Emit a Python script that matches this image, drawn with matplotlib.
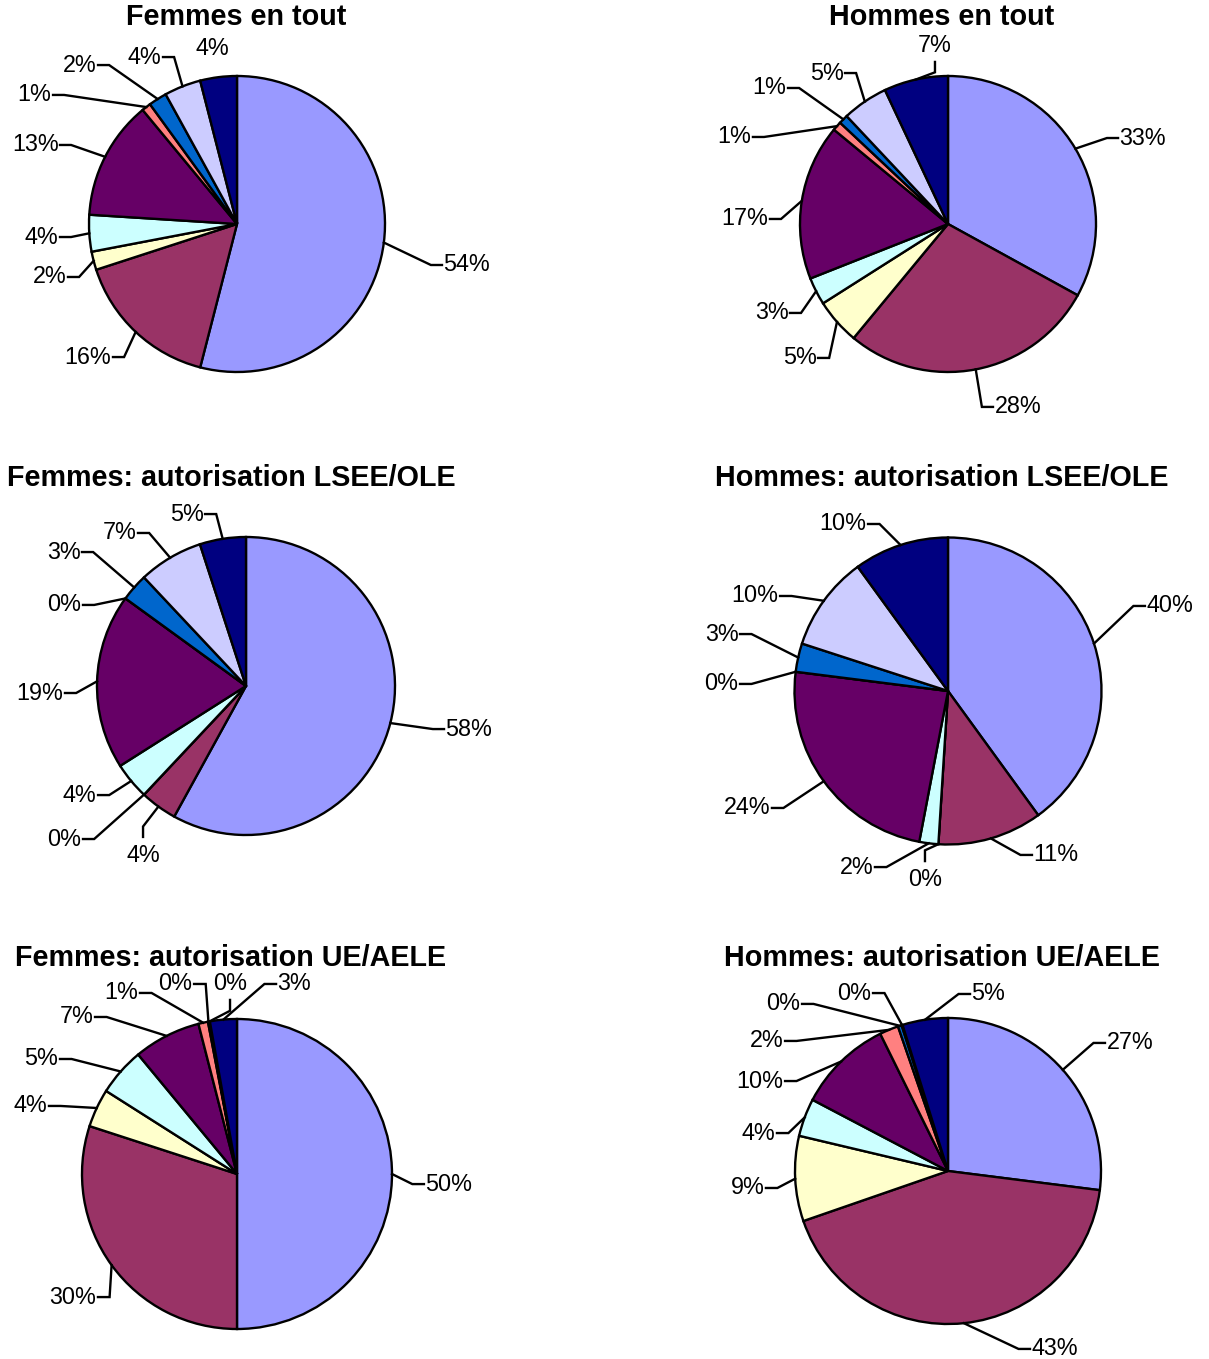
import matplotlib.pyplot as plt
import numpy as np

plt.rcParams['font.family'] = ['Liberation Sans', 'DejaVu Sans']

W, H = 1209, 1359

colors = ['#9999FF', '#993366', '#FFFFCC', '#CCFFFF', '#660066',
          '#FF8080', '#0066CC', '#CCCCFF', '#000080']

# parts en %, dans l'ordre des couleurs
femmes_tout = [54, 16, 2, 4, 13, 1, 2, 4, 4]
hommes_tout = [33, 28, 5, 3, 17, 1, 1, 5, 7]
femmes_lsee = [58, 4, 0, 4, 19, 0, 3, 7, 5]
hommes_lsee = [40, 11, 0, 2, 24, 0, 3, 10, 10]
femmes_ue = [50, 30, 4, 5, 7, 1, 0.1, 0.1, 2.8]
hommes_ue = [27, 42.7, 9, 4, 10, 2, 0.4, 0.1, 4.8]

titles = ['Femmes en tout', 'Hommes en tout',
          'Femmes: autorisation LSEE/OLE', 'Hommes: autorisation LSEE/OLE',
          'Femmes: autorisation UE/AELE', 'Hommes: autorisation UE/AELE']
series = [femmes_tout, hommes_tout, femmes_lsee, hommes_lsee, femmes_ue, hommes_ue]

# centre (px), rayon (px), position du titre (px)
pies = [(237, 224, 148), (948, 224, 148),
        (246, 686, 149), (948, 691, 153.5),
        (237, 1174, 155), (948, 1171, 153)]
title_pos = [(236, 17), (942, 17), (231, 478), (942, 478), (231, 958), (942, 958)]

# placement des étiquettes, en rayons: l = texte à droite, r = texte à gauche,
# b = texte au-dessus, t = texte en dessous, n = sans trait
label_pos = [
    [('l', 1.385, -0.277), ('r', -0.838, -0.899), ('r', -1.142, -0.358),
     ('r', -1.196, -0.088), ('r', -1.196, 0.534), ('r', -1.243, 0.872),
     ('r', -0.939, 1.074), ('r', -0.500, 1.128), ('n', -0.169, 1.189)],
    [('l', 1.149, 0.581), ('l', 0.304, -1.236), ('r', -0.878, -0.905),
     ('r', -1.068, -0.601), ('r', -1.203, 0.034), ('r', -1.318, 0.588),
     ('r', -1.081, 0.919), ('r', -0.696, 1.020), ('b', -0.088, 1.095)],
    [('l', 1.329, -0.289), ('t', -0.691, -1.013), ('r', -1.094, -1.027),
     ('r', -0.993, -0.732), ('r', -1.215, -0.047), ('r', -1.094, 0.544),
     ('r', -1.101, 0.899), ('r', -0.725, 1.027), ('r', -0.275, 1.154)],
    [('l', 1.283, 0.554), ('l', 0.547, -1.068), ('t', -0.150, -1.108),
     ('r', -0.476, -1.147), ('r', -1.147, -0.762), ('r', -1.355, 0.046),
     ('r', -1.355, 0.371), ('r', -1.094, 0.619), ('r', -0.521, 1.088)],
    [('l', 1.206, -0.065), ('r', -0.897, -0.794), ('r', -1.213, 0.439),
     ('r', -1.142, 0.742), ('r', -0.916, 1.013), ('r', -0.626, 1.168),
     ('r', -0.277, 1.226), ('b', -0.045, 1.123), ('l', 0.252, 1.226)],
    [('l', 1.026, 0.837), ('l', 0.536, -1.163), ('r', -1.190, -0.111),
     ('r', -1.118, 0.248), ('r', -1.065, 0.588), ('r', -1.065, 0.850),
     ('r', -0.954, 1.092), ('r', -0.490, 1.163), ('l', 0.144, 1.157)],
]

FS = 16.8
fig = plt.figure(figsize=(W / 100, H / 100), dpi=100)

for vals, (cx, cy, r), pos, title, tpos in zip(series, pies, label_pos, titles, title_pos):
    ax = fig.add_axes([(cx - r) / W, (H - cy - r) / H, 2 * r / W, 2 * r / H])
    wedges, _ = ax.pie(vals, colors=colors, startangle=90, counterclock=False,
                       radius=1, wedgeprops=dict(edgecolor='black', linewidth=1.7))
    ax.set_xlim(-1, 1)
    ax.set_ylim(-1, 1)
    ax.axis('off')

    for w, v, (mode, lx, ly) in zip(wedges, vals, pos):
        txt = '%d%%' % round(v)
        a = np.deg2rad((w.theta1 + w.theta2) / 2)
        ex, ey = np.cos(a), np.sin(a)
        if mode == 'l':
            pts = [(ex, ey), (lx - 0.075, ly), (lx, ly)]
            ax.text(lx + 0.01, ly, txt, ha='left', va='center', fontsize=FS)
        elif mode == 'r':
            pts = [(ex, ey), (lx + 0.075, ly), (lx, ly)]
            ax.text(lx - 0.01, ly, txt, ha='right', va='center', fontsize=FS)
        elif mode == 'b':
            pts = [(ex, ey), (lx, ly - 0.07), (lx, ly)]
            ax.text(lx, ly + 0.035, txt, ha='center', va='bottom', fontsize=FS)
        elif mode == 't':
            pts = [(ex, ey), (lx, ly + 0.07), (lx, ly)]
            ax.text(lx, ly - 0.045, txt, ha='center', va='top', fontsize=FS)
        else:
            pts = []
            ax.text(lx, ly, txt, ha='center', va='center', fontsize=FS)
        if pts:
            xs, ys = zip(*pts)
            ax.plot(xs, ys, color='black', lw=1.7, clip_on=False,
                    solid_joinstyle='miter')

    fig.text(tpos[0] / W, 1 - tpos[1] / H, title, ha='center', va='center',
             fontsize=20.7, fontweight='bold')

fig.savefig('out.png', dpi=100)
